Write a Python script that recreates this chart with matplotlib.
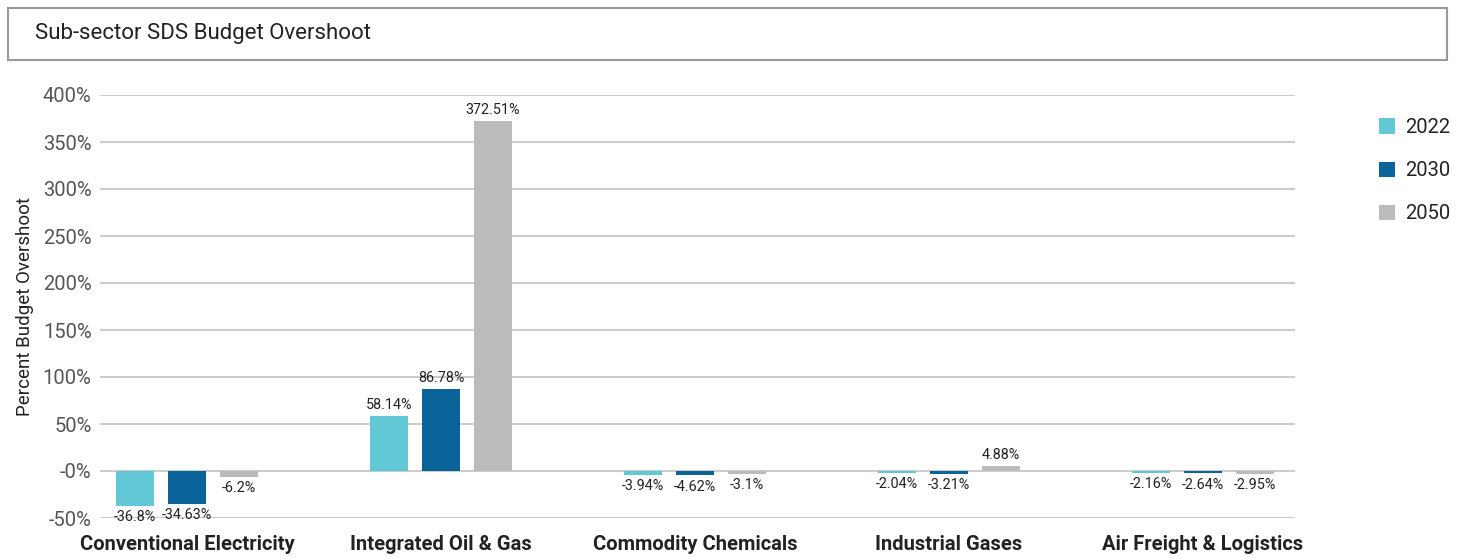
import numpy as np
import matplotlib
matplotlib.use('Agg')
import matplotlib.pyplot as plt
from matplotlib.patches import Rectangle, Patch

plt.rcParams['font.family'] = ['Roboto', 'DejaVu Sans']

# -------------- Chart data --------------
sectors = ['Conventional Electricity', 'Integrated Oil & Gas', 'Commodity Chemicals',
           'Industrial Gases', 'Air Freight & Logistics']
years = ['2022', '2030', '2050']
overshoot_2022 = [-36.8, 58.14, -3.94, -2.04, -2.16]
overshoot_2030 = [-34.63, 86.78, -4.62, -3.21, -2.64]
overshoot_2050 = [-6.2, 372.51, -3.1, 4.88, -2.95]
y_ticks = [-50, 0, 50, 100, 150, 200, 250, 300, 350, 400]
y_tick_labels = ['-50%', '-0%', '50%', '100%', '150%', '200%', '250%', '300%', '350%', '400%']
colors = ['#63C8D6', '#0A6399', '#BBBBBB']
# ----------------------------------------

fig = plt.figure(figsize=(14.6, 5.58), dpi=100)

# title box across the top
fig.patches.append(Rectangle((8 / 1460, 1 - 60 / 558), 1439 / 1460, 52 / 558,
                             transform=fig.transFigure, facecolor='white',
                             edgecolor='#9A9A9A', linewidth=1.5))
fig.text(35 / 1460, 1 - 33 / 558, 'Sub-sector SDS Budget Overshoot',
         fontsize=16, color='#222222', va='center', ha='left')

ax = fig.add_axes([100 / 1460, 1 - 518 / 558, 1195 / 1460, 423 / 558])

x = np.arange(len(sectors))
step = 52 / 254
width = 38 / 254
series = [overshoot_2022, overshoot_2030, overshoot_2050]

for i, (vals, col, yr) in enumerate(zip(series, colors, years)):
    bars = ax.bar(x + (i - 1) * step, vals, width, color=col, label=yr, zorder=3)
    ax.bar_label(bars, labels=[f'{v:g}%' for v in vals], padding=3,
                 fontsize=10.4, color='#222222')

ax.set_xlim((100 - 187) / 254, (1295 - 187) / 254)
ax.set_ylim(-50, 400)
ax.set_yticks(y_ticks)
ax.set_yticklabels(y_tick_labels, fontsize=14.5, color='#555555')
ax.set_xticks(x)
ax.set_xticklabels(sectors, fontsize=14.5, fontweight='bold', color='#222222')
ax.tick_params(axis='both', length=0)
ax.tick_params(axis='y', pad=6)
ax.tick_params(axis='x', pad=12)
ax.grid(axis='y', color='#CCCCCC', linewidth=1.5, zorder=0)
for s in ax.spines.values():
    s.set_visible(False)

ax.set_ylabel('Percent Budget Overshoot', fontsize=13.5, color='#222222', labelpad=6)

handles = [Patch(facecolor=c, label=y) for c, y in zip(colors, years)]
fig.legend(handles=handles, loc='upper left', bbox_to_anchor=(1361 / 1460, 1 - 100 / 558),
           frameon=False, fontsize=14.5, handlelength=0.8, handleheight=0.8,
           labelspacing=1.2, handletextpad=0.5, labelcolor='#222222')

plt.savefig('out.png', dpi=100)
